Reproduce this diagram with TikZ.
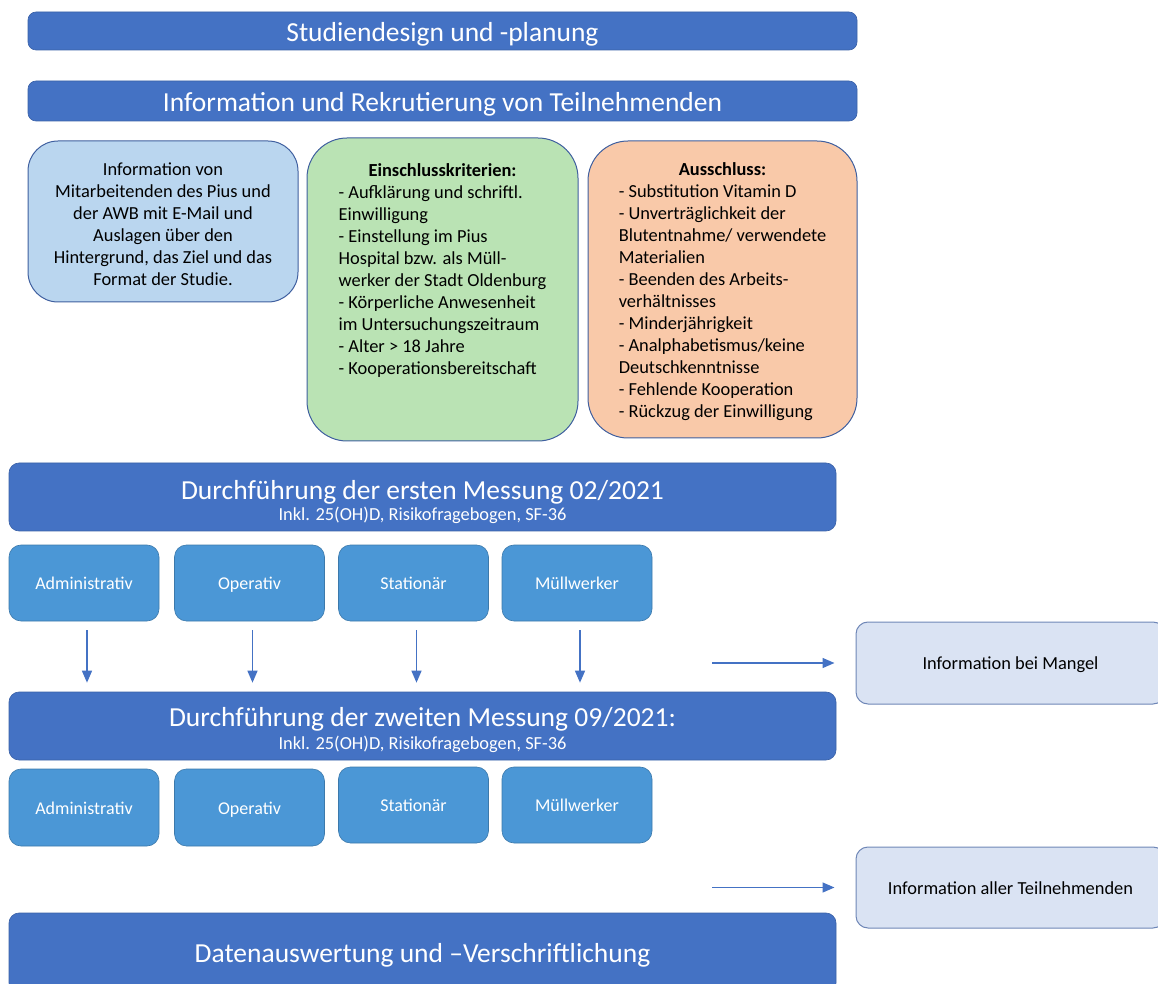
\documentclass[tikz,border=0pt]{standalone}
\usepackage{fontspec}
\setmainfont{Carlito}
\usetikzlibrary{arrows.meta}
\definecolor{barblue}{HTML}{4472C4}
\definecolor{cellblue}{HTML}{4B97D6}
\definecolor{infoblue}{HTML}{BAD6EF}
\definecolor{inclgreen}{HTML}{BAE3B4}
\definecolor{exclorange}{HTML}{F9C9A9}
\definecolor{notefill}{HTML}{DAE3F3}
\definecolor{outline}{HTML}{3F5F9F}
\definecolor{arrowblue}{HTML}{4472C4}
\begin{document}
\begin{tikzpicture}[x=0.5pt,y=-0.5pt,
  bar/.style={fill=barblue, draw=barblue!85!black, line width=0.3pt, rounded corners=4pt, inner sep=0pt, text=white},
  bigfont/.style={font=\fontsize{13.75}{16}\selectfont},
  bartitle/.style={text=white, inner sep=0pt, text height=9.6pt, text depth=3pt},
  cell/.style={fill=cellblue, draw=cellblue!80!black, line width=0.3pt, rounded corners=6pt, minimum width=75pt, inner sep=0pt, text=white, font=\fontsize{9}{11}\selectfont, text height=8.5pt, text depth=2pt},
  bigbox/.style={draw=outline, line width=0.5pt, inner sep=0pt},
  note/.style={fill=notefill, draw=outline!75, line width=0.5pt, rounded corners=6pt, minimum width=154.5pt, inner sep=0pt, font=\fontsize{9.2}{11}\selectfont, text height=8.5pt, text depth=2pt},
  flow/.style={draw=arrowblue, line width=0.7pt, -{Triangle[width=5pt,length=6pt]}}
]
\useasboundingbox (0,0) rectangle (1158,984);
\clip (0,0) rectangle (1158,984);

% top bars
\node[bar, bigfont, minimum width=414.5pt, minimum height=19pt, text height=12.6pt, text depth=2.2pt] (design) at (442.5,31) {Studiendesign und -planung};
\node[bar, bigfont, minimum width=414.5pt, minimum height=20pt, text height=12.6pt, text depth=2.2pt] (rekrut) at (442.5,101) {Information und Rekrutierung von Teilnehmenden};

% three boxes
\node[bigbox, fill=infoblue, rounded corners=15pt, minimum width=135pt, minimum height=80.5pt] (info) at (163,221.5) {};
\node[inner sep=0pt, font=\fontsize{9.2}{11}\selectfont] (infotext) at ([yshift=-2.5pt]info.center)
  {\begin{tabular}{@{}c@{}}Information von\\Mitarbeitenden des Pius und\\der AWB mit E-Mail und\\Auslagen über den\\Hintergrund, das Ziel und das\\Format der Studie.\end{tabular}};
\node[bigbox, fill=inclgreen, rounded corners=20pt, minimum width=135.5pt, minimum height=151.5pt] (incl) at (442.5,289.5) {};
\node[bigbox, fill=exclorange, rounded corners=20pt, minimum width=134.5pt, minimum height=148.5pt] (excl) at (722.5,289.5) {};
\node[anchor=north, inner sep=0pt, font=\fontsize{9.2}{11}\selectfont] (incltext) at (442.5,161)
  {\begin{tabular}{@{}l@{}}\multicolumn{1}{@{}c@{}}{\textbf{Einschlusskriterien:}}\\
  - Aufklärung und schriftl.\\
  Einwilligung\\
  - Einstellung im Pius\\
  Hospital bzw. als Müll-\\
  werker der Stadt Oldenburg\\
  - Körperliche Anwesenheit\\
  im Untersuchungszeitraum\\
  - Alter > 18 Jahre\\
  - Kooperationsbereitschaft\end{tabular}};
\node[inner sep=0pt, font=\fontsize{9.2}{11}\selectfont] (excltext) at ([yshift=-1.5pt]excl.center)
  {\begin{tabular}{@{}l@{}}\multicolumn{1}{@{}c@{}}{\textbf{Ausschluss:}}\\
  - Substitution Vitamin D\\
  - Unverträglichkeit der\\
  Blutentnahme/ verwendete\\
  Materialien\\
  - Beenden des Arbeits-\\
  verhältnisses\\
  - Minderjährigkeit\\
  - Analphabetismus/keine\\
  Deutschkenntnisse\\
  - Fehlende Kooperation\\
  - Rückzug der Einwilligung\end{tabular}};

% first measurement
\node[bar, rounded corners=5pt, minimum width=413.5pt, minimum height=34pt] (mess1) at (422.5,497) {};
\node[bartitle, bigfont] (mess1title) at ([yshift=2pt]mess1.center) {Durchführung der ersten Messung 02/2021};
\node[bartitle, font=\fontsize{9.2}{11}\selectfont, text height=6.5pt, text depth=2pt] (mess1sub) at ([yshift=-9.5pt]mess1.center) {Inkl. 25(OH)D, Risikofragebogen, SF-36};

\node[cell, minimum height=38pt] (adm1) at (84,583) {Administrativ};
\node[cell, minimum height=38pt] (op1) at (249.5,583) {Operativ};
\node[cell, minimum height=38pt] (st1) at (413.5,583) {Stationär};
\node[cell, minimum height=38pt] (mw1) at (577,583) {Müllwerker};

% second measurement
\node[bar, rounded corners=5pt, minimum width=413.5pt, minimum height=34pt] (mess2) at (422.5,726) {};
\node[bartitle, bigfont] (mess2title) at ([yshift=3pt]mess2.center) {Durchführung der zweiten Messung 09/2021:};
\node[bartitle, font=\fontsize{9.2}{11}\selectfont, text height=6.5pt, text depth=2pt] (mess2sub) at ([yshift=-9.5pt]mess2.center) {Inkl. 25(OH)D, Risikofragebogen, SF-36};

\foreach \a/\b in {adm1/mess2, op1/mess2, st1/mess2, mw1/mess2}
  \draw[flow, shorten <=4.5pt, shorten >=4.5pt] ([xshift=1.5pt]\a.south) -- ([xshift=1.5pt]\a.south |- \b.north);

\node[cell, minimum height=38.5pt] (adm2) at (84,807.5) {Administrativ};
\node[cell, minimum height=38.5pt] (op2) at (249.5,807.5) {Operativ};
\node[cell, minimum height=38pt] (st2) at (413.5,805) {Stationär};
\node[cell, minimum height=38pt] (mw2) at (577,805) {Müllwerker};

% final bar
\node[bar, bigfont, rounded corners=5pt, minimum width=413.5pt, minimum height=40pt, text height=12.6pt, text depth=3pt] (daten) at (422.5,953) {Datenauswertung und –Verschriftlichung};

% notes on the right
\node[note, minimum height=41pt] (mangel) at (1010.5,663) {Information bei Mangel};
\node[note, minimum height=40.5pt] (alle) at (1010.5,887.5) {Information aller Teilnehmenden};
\coordinate (m0) at (712,663);
\coordinate (a0) at (712,887.5);
\draw[flow, shorten >=10.5pt] (m0) -- (mangel.west);
\draw[flow, shorten >=10.5pt] (a0) -- (alle.west);
\end{tikzpicture}
\end{document}
